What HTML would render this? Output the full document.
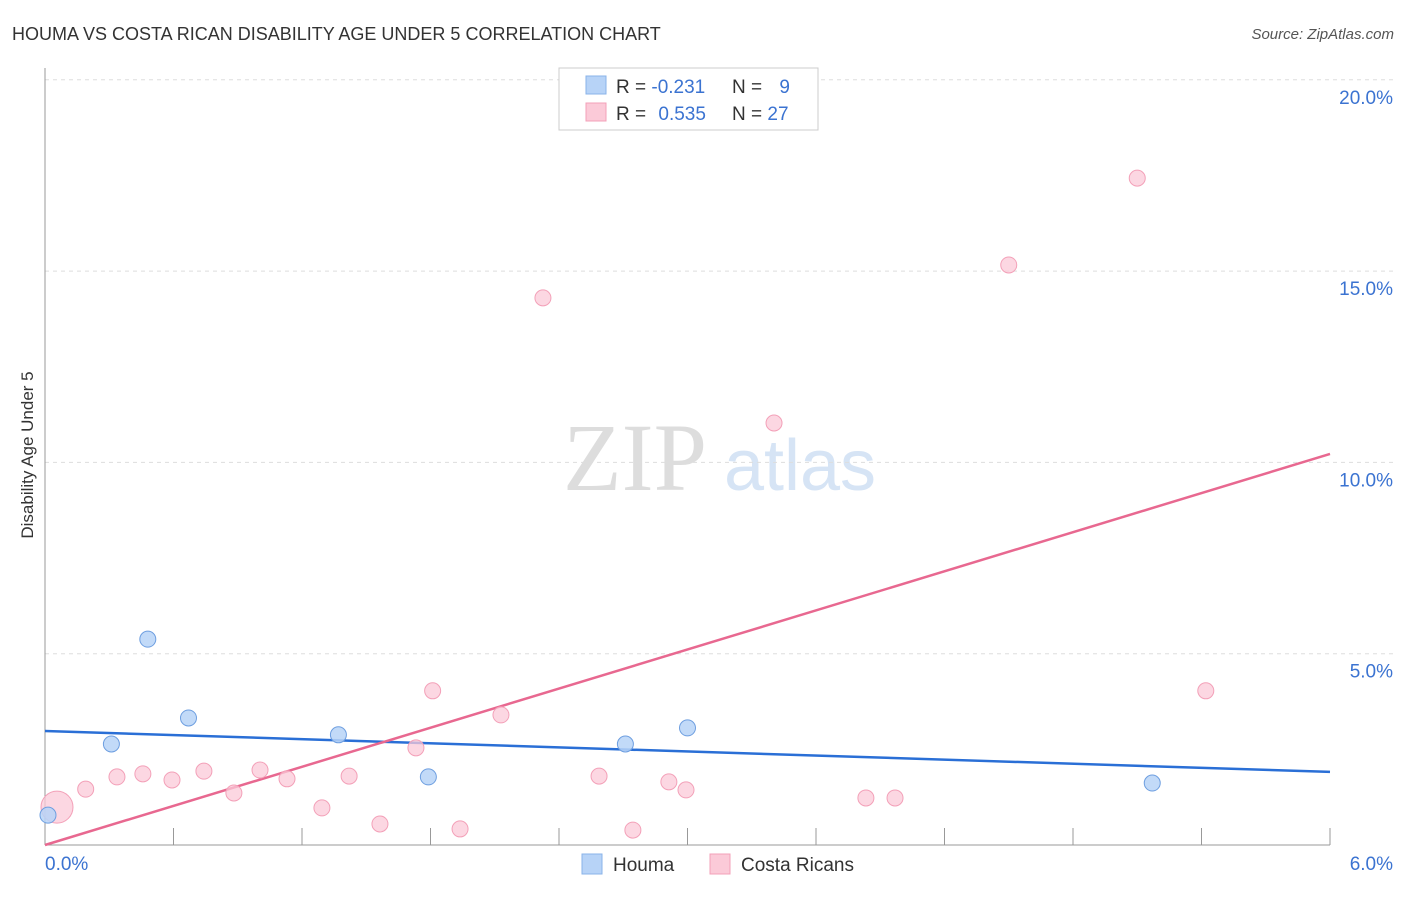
<!DOCTYPE html>
<html><head><meta charset="utf-8"><style>
body{margin:0;background:#fff;font-family:"Liberation Sans",sans-serif;}
svg text{font-family:"Liberation Sans",sans-serif;}
</style></head><body>
<svg id="chart" width="1406" height="892">
<text x="12" y="40" font-size="18" fill="#333">HOUMA VS COSTA RICAN DISABILITY AGE UNDER 5 CORRELATION CHART</text>
<text x="1394" y="39" font-size="15" fill="#555" font-style="italic" text-anchor="end">Source: ZipAtlas.com</text>
<text transform="translate(33,455) rotate(-90)" font-size="17" fill="#333" text-anchor="middle">Disability Age Under 5</text>
<g>
<text x="635" y="490" font-size="96" fill="#ddd" text-anchor="middle" style="font-family:'Liberation Serif',serif">ZIP</text>
<text x="800" y="490" font-size="72" fill="#d6e4f5" text-anchor="middle">atlas</text>
</g>
<g id="grid"></g><g id="axes"></g><g id="lines"></g><g id="points"></g>
<g>
<rect x="559" y="68" width="259" height="62" fill="#fff" stroke="#ccc"/>
<rect x="586" y="76" width="20" height="18" fill="#b7d3f7" stroke="#8ab3e8"/>
<rect x="586" y="103" width="20" height="18" fill="#fbcad8" stroke="#f3a0b8"/>
<text x="616" y="93" font-size="19" fill="#333">R = <tspan fill="#3b73d1">-0.231</tspan></text>
<text x="732" y="93" font-size="19" fill="#333">N = <tspan fill="#3b73d1" dx="12">9</tspan></text>
<text x="616" y="120" font-size="19" fill="#333">R = <tspan fill="#3b73d1" dx="7">0.535</tspan></text>
<text x="732" y="120" font-size="19" fill="#333">N = <tspan fill="#3b73d1">27</tspan></text>
</g>
<g>
<rect x="582" y="854" width="20" height="20" fill="#b7d3f7" stroke="#8ab3e8"/>
<text x="613" y="871" font-size="19" fill="#333">Houma</text>
<rect x="710" y="854" width="20" height="20" fill="#fbcad8" stroke="#f3a0b8"/>
<text x="741" y="871" font-size="19" fill="#333">Costa Ricans</text>
</g>
</svg>
<script>
const houmaX=[0.014,0.31,0.48,0.67,1.37,1.79,2.71,3.00,5.17];
const houmaY=[0.78,2.64,5.38,3.32,2.88,1.78,2.64,3.06,1.62];
const costaX=[0.056,0.19,0.336,0.457,0.593,0.742,0.882,1.004,1.13,1.293,1.42,1.564,1.732,1.81,1.938,2.129,2.325,2.587,2.745,2.913,2.993,3.404,3.833,3.969,4.5,5.1,5.42];
const costaY=[0.99,1.46,1.78,1.86,1.70,1.93,1.36,1.96,1.73,0.97,1.80,0.55,2.54,4.03,0.42,3.40,14.30,1.80,0.39,1.65,1.44,11.03,1.23,1.23,15.16,17.43,4.03];
const houmaTrend=[2.98,1.91];
const costaTrend=[0.0,10.22];
const trendX=[0,6];
const yTicks=[5,10,15,20];
const yTickLabels=["5.0%","10.0%","15.0%","20.0%"];
const xTicks=[0,0.6,1.2,1.8,2.4,3.0,3.6,4.2,4.8,5.4,6.0];
const xEndLabels=["0.0%","6.0%"];
const X=v=>45+v/6*1285, Y=v=>845-v*38.26;
const NS="http://www.w3.org/2000/svg";
function mk(p,t,a){const e=document.createElementNS(NS,t);for(const k in a)e.setAttribute(k,a[k]);p.appendChild(e);return e;}
const grid=document.getElementById('grid'),axes=document.getElementById('axes'),lines=document.getElementById('lines'),pts=document.getElementById('points');
yTicks.forEach((t,i)=>{
 const g=mk(grid,'line',{x1:45,x2:1394,y1:Y(t),y2:Y(t),stroke:'#ddd','stroke-dasharray':'4,4'});
 
 
 const l=mk(axes,'text',{x:1393,y:Y(t)+24,'font-size':19,fill:'#3b73d1','text-anchor':'end'});l.textContent=yTickLabels[i];
 
 
});
const ax=mk(axes,'line',{x1:45,x2:45,y1:68,y2:845,stroke:'#999'});


const bx=mk(axes,'line',{x1:45,x2:1330,y1:845,y2:845,stroke:'#999'});


xTicks.forEach(t=>{const e=mk(axes,'line',{x1:X(t),x2:X(t),y1:828,y2:845,stroke:'#999'});
 
 });
[[0,45,'start'],[1,1393,'end']].forEach(([i,x,a])=>{const l=mk(axes,'text',{x:x,y:870,'font-size':19,fill:'#3b73d1','text-anchor':a});l.textContent=xEndLabels[i];
 
 });
costaX.forEach((x,i)=>{const c=mk(pts,'circle',{cx:X(x),cy:Y(costaY[i]),r:i==0?16:8,fill:'#fbcad8','fill-opacity':0.75,stroke:'#f3a0b8'});
 
 });
houmaX.forEach((x,i)=>{const c=mk(pts,'circle',{cx:X(x),cy:Y(houmaY[i]),r:8,fill:'#b7d3f7','fill-opacity':0.85,stroke:'#6d9ee0'});
 
 });
const lb=mk(lines,'line',{x1:X(trendX[0]),x2:X(trendX[1]),y1:Y(houmaTrend[0]),y2:Y(houmaTrend[1]),stroke:'#2a6fd6','stroke-width':2.5});


const lp=mk(lines,'line',{x1:X(trendX[0]),x2:X(trendX[1]),y1:Y(costaTrend[0]),y2:Y(costaTrend[1]),stroke:'#e86890','stroke-width':2.5});


</script>
</body></html>
